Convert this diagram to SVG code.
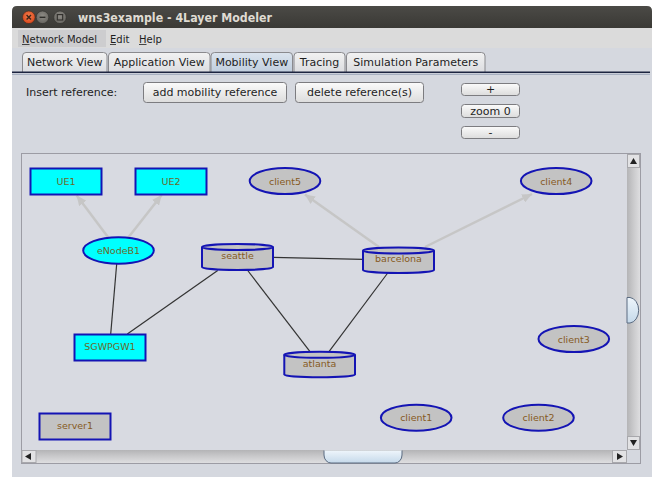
<svg xmlns="http://www.w3.org/2000/svg" width="654" height="477" viewBox="0 0 654 477">
<defs>
<linearGradient id="gTitle" x1="0" y1="0" x2="0" y2="1"><stop offset="0" stop-color="#4b4a46"/><stop offset="1" stop-color="#3a3935"/></linearGradient>
<linearGradient id="gBtn" x1="0" y1="0" x2="0" y2="1"><stop offset="0" stop-color="#fbfbfb"/><stop offset="1" stop-color="#dcdcdc"/></linearGradient>
<linearGradient id="gTab" x1="0" y1="0" x2="0" y2="1"><stop offset="0" stop-color="#f2f2f2"/><stop offset="1" stop-color="#dcdde0"/></linearGradient>
<linearGradient id="gTabSel" x1="0" y1="0" x2="0" y2="1"><stop offset="0" stop-color="#dbe4ee"/><stop offset="1" stop-color="#bfcddd"/></linearGradient>
<linearGradient id="gVTrack" x1="0" y1="0" x2="1" y2="0"><stop offset="0" stop-color="#b4b4b6"/><stop offset="0.5" stop-color="#cacacc"/><stop offset="1" stop-color="#dedee0"/></linearGradient>
<linearGradient id="gHTrack" x1="0" y1="0" x2="0" y2="1"><stop offset="0" stop-color="#b4b4b6"/><stop offset="0.5" stop-color="#cacacc"/><stop offset="1" stop-color="#dedee0"/></linearGradient>
<linearGradient id="gThumb" x1="0" y1="0" x2="0" y2="1"><stop offset="0" stop-color="#eef5fb"/><stop offset="1" stop-color="#c5d9ea"/></linearGradient>
<radialGradient id="gClose" cx="0.5" cy="0.4" r="0.6"><stop offset="0" stop-color="#f4804f"/><stop offset="1" stop-color="#d9461b"/></radialGradient>
<radialGradient id="gGrey" cx="0.5" cy="0.4" r="0.6"><stop offset="0" stop-color="#8e8c86"/><stop offset="1" stop-color="#66645f"/></radialGradient>
<marker id="arr" viewBox="0 0 10 9" refX="10" refY="4.5" markerWidth="10" markerHeight="9" markerUnits="userSpaceOnUse" orient="auto">
<path d="M0,0 L10,4.5 L0,9 z" fill="#c6c6c6"/>
</marker>
<style>
.ui{font-family:"DejaVu Sans","Liberation Sans",sans-serif;font-size:11px;fill:#1e1e1e}
.menu{font-family:"DejaVu Sans","Liberation Sans",sans-serif;font-size:10px;fill:#1e1e1e}
.tab{fill:url(#gTab);stroke:#8a8a8e;stroke-width:1}
.btn{fill:url(#gBtn);stroke:#7c7c80;stroke-width:1}
.lbl{font-family:"DejaVu Sans","Liberation Sans",sans-serif;font-size:9.5px;fill:#865a1e;text-anchor:middle}
.lblc{font-family:"DejaVu Sans","Liberation Sans",sans-serif;font-size:9.5px;fill:#6a6a2a;text-anchor:middle}
.gray{fill:#c3c3c3;stroke:#1414b4;stroke-width:2}
.cyan{fill:#00ffff;stroke:#1414b4;stroke-width:2}
.link{stroke:#333333;stroke-width:1.2;fill:none}
.ref{stroke:#c6c6c6;stroke-width:2.5;fill:none;marker-end:url(#arr)}
.sb{fill:#e2e2e4;stroke:#a8a8ac;stroke-width:1}
</style>
</defs>

<rect x="0" y="0" width="654" height="477" fill="#ffffff"/>
<!-- window -->
<rect x="12" y="20" width="640" height="457" fill="#d5d8df"/>
<path d="M12,28 V11 Q12,6 17,6 H647 Q652,6 652,11 V28 Z" fill="url(#gTitle)"/>
<circle cx="28.8" cy="17.3" r="6.3" fill="url(#gClose)" stroke="#3a2a20" stroke-width="0.6"/>
<path d="M26.6,15.1 L31,19.5 M31,15.1 L26.6,19.5" stroke="#3c2418" stroke-width="1.4"/>
<circle cx="42.5" cy="17.3" r="6.3" fill="url(#gGrey)" stroke="#2e2d2a" stroke-width="0.6"/>
<path d="M39.6,17.3 H45.4" stroke="#2e2d2a" stroke-width="1.4"/>
<circle cx="60" cy="17.3" r="6.3" fill="url(#gGrey)" stroke="#2e2d2a" stroke-width="0.6"/>
<rect x="57.3" y="14.6" width="5.4" height="5.4" fill="none" stroke="#2e2d2a" stroke-width="1.1"/>
<text x="78" y="21.5" font-family="DejaVu Sans, Liberation Sans, sans-serif" font-size="12" font-weight="bold" fill="#dfdbd2" textLength="194" lengthAdjust="spacingAndGlyphs">wns3example - 4Layer Modeler</text>

<!-- menu bar -->
<rect x="12" y="28" width="640" height="20" fill="#dbdbdb"/>
<rect x="18" y="30" width="88" height="17" fill="#cdcdcf"/>
<text class="menu" x="22" y="42.5">Network Model</text>
<text class="menu" x="110" y="42.5">Edit</text>
<text class="menu" x="139" y="42.5">Help</text>
<path d="M22,44.5 H29.5 M110,44.5 H116 M139,44.5 H146.5" stroke="#1e1e1e" stroke-width="0.8"/>

<!-- tabs -->
<g id="tabs">
<path class="tab" d="M22.5,72 V56 Q22.5,52.5 26,52.5 H103.5 Q107,52.5 107,56 V72"/>
<path class="tab" d="M108.5,72 V56 Q108.5,52.5 112,52.5 H206.5 Q210,52.5 210,56 V72"/>
<path d="M211,73 V56 Q211,52.5 214.5,52.5 H289 Q292.5,52.5 292.5,56 V73" fill="url(#gTabSel)" stroke="#8a8a8e" stroke-width="1"/>
<path class="tab" d="M294,72 V56 Q294,52.5 297.5,52.5 H341.5 Q345,52.5 345,56 V72"/>
<path class="tab" d="M346.5,72 V56 Q346.5,52.5 350,52.5 H481.5 Q485,52.5 485,56 V72"/>
<text class="ui" x="64.8" y="66" text-anchor="middle">Network View</text>
<text class="ui" x="159.3" y="66" text-anchor="middle">Application View</text>
<text class="ui" x="251.8" y="66" text-anchor="middle">Mobility View</text>
<text class="ui" x="319.5" y="66" text-anchor="middle">Tracing</text>
<text class="ui" x="415.8" y="66" text-anchor="middle">Simulation Parameters</text>
</g>
<line x1="12" y1="72.3" x2="650" y2="72.3" stroke="#1c2440" stroke-width="1.4"/>
<line x1="12" y1="74.3" x2="650" y2="74.3" stroke="#9aa5b8" stroke-width="1"/>

<!-- controls -->
<text class="ui" x="26" y="96">Insert reference:</text>
<g id="btnAdd"><rect class="btn" x="143.5" y="82.5" width="143" height="20" rx="3"/><text class="ui" x="215" y="96" text-anchor="middle">add mobility reference</text></g>
<g id="btnDel"><rect class="btn" x="295.5" y="82.5" width="128" height="20" rx="3"/><text class="ui" x="359.5" y="96" text-anchor="middle">delete reference(s)</text></g>
<g id="btnPlus"><rect class="btn" x="461.5" y="83.5" width="58" height="12" rx="3"/><text class="ui" x="490.5" y="92.5" text-anchor="middle" font-size="9">+</text></g>
<g id="btnZoom"><rect class="btn" x="461.5" y="104.5" width="58" height="13" rx="3" stroke="#6f8db5"/><text class="ui" x="490.5" y="114.5" text-anchor="middle" font-size="9.5">zoom 0</text></g>
<g id="btnMinus"><rect class="btn" x="461.5" y="126.5" width="58" height="12" rx="3"/><text class="ui" x="490.5" y="135.5" text-anchor="middle" font-size="9">-</text></g>

<!-- canvas -->
<rect x="21.5" y="153.5" width="619" height="310" fill="#d8dae1" stroke="#9c9ca4" stroke-width="1"/>

<!-- scrollbars -->
<rect x="627" y="154" width="13" height="296" fill="url(#gVTrack)"/>
<rect class="sb" x="627.5" y="154.5" width="12" height="13"/>
<path d="M633.5,158 L637,164 H630 Z" fill="#222"/>
<rect class="sb" x="627.5" y="436.5" width="12" height="13"/>
<path d="M633.5,446 L637,440 H630 Z" fill="#222"/>
<path d="M627,297.5 H630 A9.5,12.8 0 0 1 630,323 H627 Z" fill="url(#gThumb)" stroke="#5a6a80" stroke-width="1"/>
<rect x="22" y="450" width="605" height="13" fill="url(#gHTrack)"/>
<rect class="sb" x="22" y="450.5" width="14" height="12"/>
<path d="M25,456.5 L31,453 V460 Z" fill="#222"/>
<rect class="sb" x="612.5" y="450.5" width="14" height="12"/>
<path d="M623,456.5 L617,453 V460 Z" fill="#222"/>
<rect x="627" y="450" width="13" height="13" fill="#d5d8df"/>
<path d="M324,450.5 V455 A7,8 0 0 0 331,463 H395 A7,8 0 0 0 402,455 V450.5" fill="url(#gThumb)" stroke="#5a6a80" stroke-width="1"/>

<!-- connectors -->
<g id="connectors">
<line class="link" x1="116.7" y1="263.8" x2="110.7" y2="334"/>
<line class="link" x1="217.7" y1="270.5" x2="127.3" y2="334"/>
<line class="link" x1="273" y1="257.3" x2="363" y2="259.3"/>
<line class="link" x1="247.7" y1="270.5" x2="310" y2="351.7"/>
<line class="link" x1="387.7" y1="273" x2="329" y2="351.7"/>
<line class="ref" x1="108.3" y1="237.5" x2="76.7" y2="195.5"/>
<line class="ref" x1="128.3" y1="237.5" x2="161.7" y2="195"/>
<line class="ref" x1="379" y1="247" x2="305" y2="194.5"/>
<line class="ref" x1="425" y1="247" x2="532" y2="194"/>
</g>

<!-- nodes -->
<g id="UE1"><rect class="cyan" x="30.5" y="168.5" width="71" height="26"/><text class="lblc" x="66" y="185">UE1</text></g>
<g id="UE2"><rect class="cyan" x="135.5" y="168.5" width="71" height="26"/><text class="lblc" x="171" y="185">UE2</text></g>
<g id="client5"><ellipse class="gray" cx="285" cy="181" rx="35.3" ry="13"/><text class="lbl" x="285" y="184.5">client5</text></g>
<g id="client4"><ellipse class="gray" cx="556.2" cy="181" rx="35.3" ry="13"/><text class="lbl" x="556.2" y="184.5">client4</text></g>
<g id="eNodeB1"><ellipse class="cyan" cx="118.5" cy="250.5" rx="35.3" ry="13.2"/><text class="lblc" x="118.5" y="254">eNodeB1</text></g>
<g id="seattle"><path class="gray" d="M202,247 V267 A35.5,3 0 0 0 273,267 V247"/><ellipse class="gray" cx="237.5" cy="247" rx="35.5" ry="3"/><text class="lbl" x="237.5" y="259.3">seattle</text></g>
<g id="barcelona"><path class="gray" d="M363,250.5 V270 A35.5,3 0 0 0 434,270 V250.5"/><ellipse class="gray" cx="398.5" cy="250.5" rx="35.5" ry="3"/><text class="lbl" x="398.5" y="262">barcelona</text></g>
<g id="SGWPGW1"><rect class="cyan" x="74.5" y="334.5" width="71" height="26"/><text class="lblc" x="110" y="349.5">SGWPGW1</text></g>
<g id="atlanta"><path class="gray" d="M284.3,354.8 V374.5 A35.4,3 0 0 0 355,374.5 V354.8"/><ellipse class="gray" cx="319.6" cy="354.8" rx="35.4" ry="3"/><text class="lbl" x="319.6" y="367">atlanta</text></g>
<g id="client3"><ellipse class="gray" cx="573.8" cy="339" rx="35.3" ry="13"/><text class="lbl" x="573.8" y="342.5">client3</text></g>
<g id="server1"><rect class="gray" x="39.5" y="413.5" width="71" height="26"/><text class="lbl" x="75" y="428.5">server1</text></g>
<g id="client1"><ellipse class="gray" cx="416.2" cy="417.7" rx="35.3" ry="13"/><text class="lbl" x="416.2" y="421.2">client1</text></g>
<g id="client2"><ellipse class="gray" cx="538.5" cy="417.7" rx="35.3" ry="13"/><text class="lbl" x="538.5" y="421.2">client2</text></g>
</svg>
